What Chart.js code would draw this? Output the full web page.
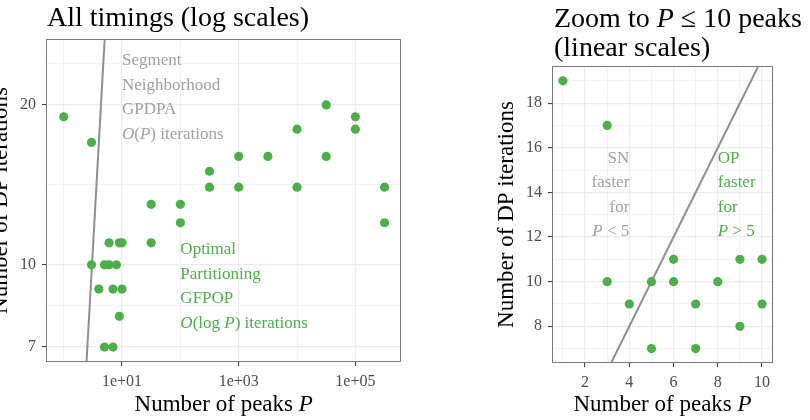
<!DOCTYPE html>
<html lang="en">
<head>
<meta charset="UTF-8">
<title>DP iterations vs number of peaks</title>
<script src="https://cdn.jsdelivr.net/npm/chart.js"></script>
<style>
  body { margin: 0; background: #ffffff; }
  .wrap { display: flex; width: 810px; height: 420px; }
  canvas { display: block; }
</style>
</head>
<body>
<div class="wrap">
  <canvas id="logChart" width="405" height="420"></canvas>
  <canvas id="zoomChart" width="405" height="420"></canvas>
</div>
<script>
// values
const peaks = [1, 3, 3, 4, 5, 5, 6, 6, 7, 7, 8, 9, 9, 10, 10,
  31.6, 31.6, 100, 100, 316, 316, 1000, 1000, 3162, 10000, 10000,
  31623, 31623, 100000, 100000, 316228, 316228];
const iterations = [19, 17, 10, 9, 10, 7, 11, 10, 9, 7, 10, 11, 8, 11, 9,
  13, 11, 13, 12, 15, 14, 16, 14, 16, 18, 14, 20, 16, 19, 18, 14, 12];

// Segment Neighborhood reference line
const snLogPeaks = [2.47, 5.03];
const snLogIters = [6.59, 26.5];
const snZoomPeaks = [3.2, 9.81];
const snZoomIters = [6.4, 19.62];

// ticks / grid
const logXMajor = [10, 1000, 100000];
const logXMinor = [1, 100, 10000];
const logYMajor = [7, 10, 20];
const logYMinor = [8.37, 14.14, 23.9];
const zoomXMajor = [2, 4, 6, 8, 10];
const zoomXMinor = [1, 3, 5, 7, 9];
const zoomYMajor = [8, 10, 12, 14, 16, 18];
const zoomYMinor = [7, 9, 11, 13, 15, 17, 19];

const SERIF = '"Liberation Serif", "Times New Roman", serif';
const GREEN = '#4DAF4A';
const GRAY_TEXT = '#A0A0A0';
const GRAY_LINE = '#8F8F8F';

Chart.defaults.font.family = SERIF;

function font(size, italic) {
    return (italic ? 'italic ' : '') + size + 'px ' + SERIF;
}
function norm(line) {
    return typeof line === 'string' ? [[line, false]] : line;
}
function drawRich(ctx, segs, x, y, align, size, color) {
    ctx.fillStyle = color;
    ctx.textBaseline = 'middle';
    ctx.textAlign = 'left';
    let w = 0;
    segs.forEach(s => { ctx.font = font(size, s[1]); w += ctx.measureText(s[0]).width; });
    let cx = align === 'center' ? x - w / 2 : (align === 'right' ? x - w : x);
    segs.forEach(s => {
        ctx.font = font(size, s[1]);
        ctx.fillText(s[0], cx, y);
        cx += ctx.measureText(s[0]).width;
    });
}

const panelText = {
    id: 'panelText',
    afterDraw(chart, args, opts) {
        const ctx = chart.ctx, a = chart.chartArea;
        ctx.save();
        // panel border
        ctx.strokeStyle = '#7A7A7A';
        ctx.lineWidth = 1;
        ctx.strokeRect(Math.round(a.left) - 0.5, Math.round(a.top) - 0.5,
            Math.round(a.width) + 1, Math.round(a.height) + 1);
        // labels inside the panel
        opts.notes.forEach(n => {
            const x = chart.scales.x.getPixelForValue(n.x);
            const y0 = chart.scales.y.getPixelForValue(n.y);
            n.lines.forEach((l, i) => drawRich(ctx, norm(l), x, y0 + i * 24.4, n.align, 17, n.color));
        });
        // titles
        opts.title.forEach((l, i) => drawRich(ctx, norm(l), a.left + opts.titleDx, opts.titleY + i * 29, 'left', 28, '#000'));
        drawRich(ctx, [['Number of peaks ', false], ['P', true]], (a.left + a.right) / 2, 405, 'center', 23, '#000');
        ctx.translate(opts.yTitleX, (a.top + a.bottom) / 2);
        ctx.rotate(-Math.PI / 2);
        drawRich(ctx, [['Number of DP iterations', false]], 0, 0, 'center', 23, '#000');
        ctx.restore();
    }
};

function axis(type, min, max, major, minor, fmt, fit) {
    return {
        type: type, min: min, max: max,
        afterBuildTicks: s => {
            s.ticks = major.map(v => ({ value: v }))
                .concat(minor.map(v => ({ value: v, isMinor: true })));
        },
        afterFit: fit,
        ticks: {
            autoSkip: false, maxRotation: 0, color: '#4D4D4D', padding: 6,
            font: { size: 16, family: SERIF },
            callback: (v, i, t) => t[i].isMinor ? '' : fmt(v)
        },
        grid: {
            color: '#EBEBEB',
            lineWidth: c => (c.tick && c.tick.isMinor) ? 0.6 : 1.2,
            tickColor: c => (c.tick && c.tick.isMinor) ? 'rgba(0,0,0,0)' : '#333333',
            tickLength: 5, tickWidth: 1
        },
        border: { display: false }
    };
}

const sciFmt = v => '1e+' + String(Math.round(Math.log10(v))).padStart(2, '0');
const plainFmt = v => String(v);

function pointSet(xs, ys) {
    return {
        data: xs.map((x, i) => ({ x: x, y: ys[i] })),
        backgroundColor: GREEN, borderWidth: 0, pointRadius: 4.6, order: 0
    };
}
function lineSet(xs, ys) {
    return {
        data: xs.map((x, i) => ({ x: x, y: ys[i] })),
        showLine: true, borderColor: GRAY_LINE, borderWidth: 2,
        pointRadius: 0, clip: 0, order: 1
    };
}

const baseOptions = {
    responsive: false, animation: false,
    events: []
};

new Chart(document.getElementById('logChart'), {
    type: 'scatter',
    data: { datasets: [pointSet(peaks, iterations), lineSet(snLogPeaks, snLogIters)] },
    options: Object.assign({}, baseOptions, {
        layout: { padding: { top: 40, right: 4, left: 0, bottom: 0 } },
        scales: {
            x: axis('logarithmic', 0.5176, 591000, logXMajor, logXMinor, sciFmt, s => { s.height = 59; }),
            y: axis('logarithmic', 6.59, 26.5, logYMajor, logYMinor, plainFmt, s => { s.width = 47; })
        },
        plugins: {
            legend: { display: false }, tooltip: { enabled: false },
            panelText: {
                title: ['All timings (log scales)'], titleDx: 0, titleY: 19, yTitleX: 1,
                notes: [
                    { x: 10, y: 24.2, align: 'left', color: GRAY_TEXT,
                      lines: ['Segment', 'Neighborhood', 'GPDPA',
                        [['O', true], ['(', false], ['P', true], [') iterations', false]]] },
                    { x: 100, y: 10.67, align: 'left', color: GREEN,
                      lines: ['Optimal', 'Partitioning', 'GFPOP',
                        [['O', true], ['(log ', false], ['P', true], [') iterations', false]]] }
                ]
            }
        }
    }),
    plugins: [panelText]
});

const zoomPeaks = peaks.filter(p => p <= 10);
const zoomIters = iterations.filter((v, i) => peaks[i] <= 10);

new Chart(document.getElementById('zoomChart'), {
    type: 'scatter',
    data: { datasets: [pointSet(zoomPeaks, zoomIters), lineSet(snZoomPeaks, snZoomIters)] },
    options: Object.assign({}, baseOptions, {
        layout: { padding: { top: 67, right: 38, left: 0, bottom: 0 } },
        scales: {
            x: axis('linear', 0.55, 10.45, zoomXMajor, zoomXMinor, plainFmt, s => { s.height = 58; }),
            y: axis('linear', 6.4, 19.62, zoomYMajor, zoomYMinor, plainFmt, s => { s.width = 148; })
        },
        plugins: {
            legend: { display: false }, tooltip: { enabled: false },
            panelText: {
                title: [[['Zoom to ', false], ['P', true], [' \u2264 10 peaks', false]], '(linear scales)'],
                titleDx: 1, titleY: 20, yTitleX: 102,
                notes: [
                    { x: 4, y: 15.53, align: 'right', color: GRAY_TEXT,
                      lines: ['SN', 'faster', 'for', [['P', true], [' < 5', false]]] },
                    { x: 8, y: 15.53, align: 'left', color: GREEN,
                      lines: ['OP', 'faster', 'for', [['P', true], [' > 5', false]]] }
                ]
            }
        }
    }),
    plugins: [panelText]
});
</script>
</body>
</html>
